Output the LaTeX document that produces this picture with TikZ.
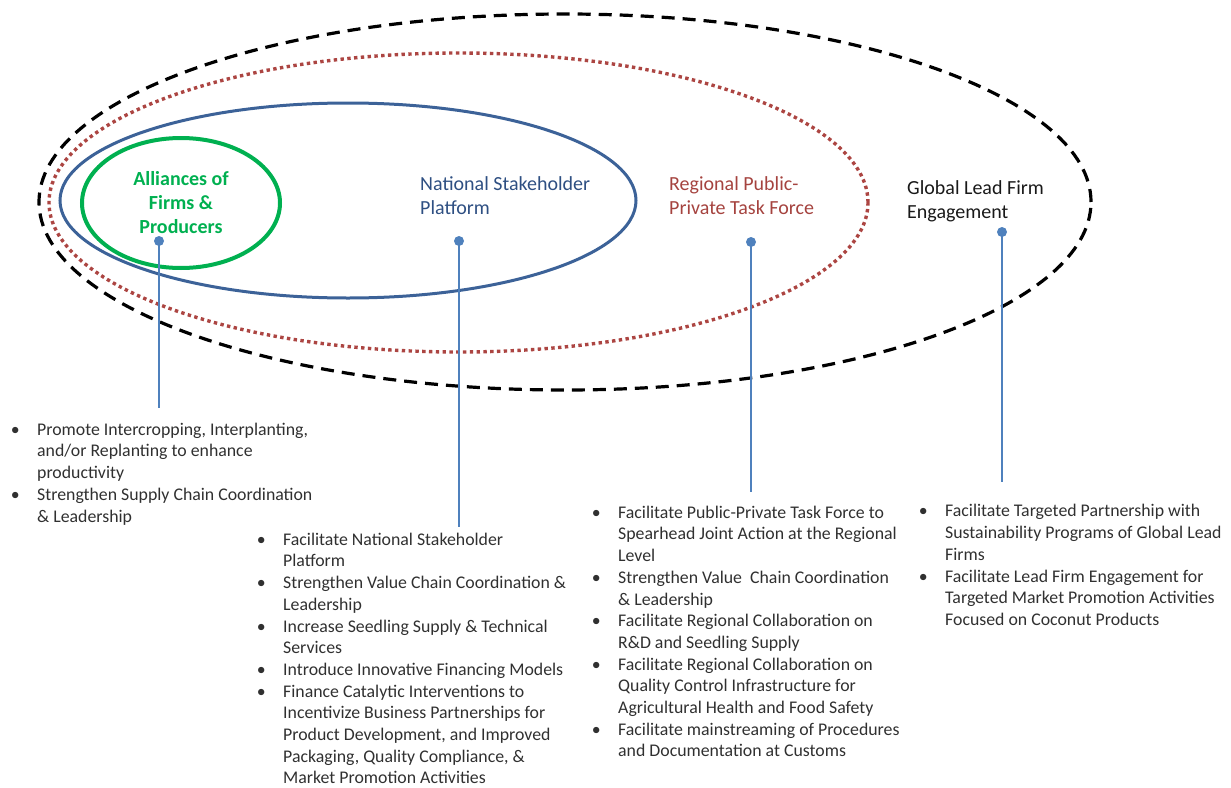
\documentclass[tikz,border=0pt]{standalone}
\usepackage{fontspec}
\setmainfont{Carlito}
\usepackage{array}
\definecolor{grn}{HTML}{00B050}
\definecolor{nblue}{HTML}{3C6298}
\definecolor{ntext}{HTML}{2E4F82}
\definecolor{rdot}{HTML}{AC4542}
\definecolor{rtext}{HTML}{A5433F}
\definecolor{dotblue}{HTML}{4F81BD}
\definecolor{bodytext}{HTML}{303030}
\newcommand{\bl}{\makebox[22pt][l]{\makebox[0pt]{•}}}
\newcommand{\nb}{\makebox[22pt][l]{}}
\begin{document}
\begin{tikzpicture}[x=1pt,y=-1pt,
  title/.style={inner sep=0pt, font=\fontsize{20}{24.4}\selectfont},
  blist/.style={inner sep=0pt, anchor=north west, text=bodytext, font=\fontsize{17.8}{21.7}\selectfont},
  pin/.style={circle, fill=dotblue, inner sep=0pt, minimum size=10pt},
  pinline/.style={draw=dotblue, line width=1.5pt}]
\useasboundingbox (0,0) rectangle (1231,787);
% ellipses
\draw[black, line width=3.2pt, dash pattern=on 13pt off 8pt] (565,202) ellipse [x radius=526pt, y radius=188pt];
\draw[rdot, line width=3.4pt, line cap=butt, dash pattern=on 3.4pt off 3.4pt] (458.5,202.5) ellipse [x radius=409.5pt, y radius=149.5pt];
\draw[nblue, line width=3pt] (348,200.5) ellipse [x radius=288pt, y radius=97.5pt];
\draw[grn, line width=4pt] (181,203) ellipse [x radius=99pt, y radius=65pt];
% titles
\node[title, anchor=base, text=grn, font=\fontsize{20}{24}\selectfont\bfseries] (t1) at (181,185)
  {\begin{tabular}[t]{@{}c@{}}Alliances of\\Firms \&\\Producers\end{tabular}};
\node[title, anchor=base west, text=ntext] (t2) at (420,190.5)
  {\begin{tabular}[t]{@{}l@{}}National Stakeholder\\Platform\end{tabular}};
\node[title, anchor=base west, text=rtext] (t3) at (669,190)
  {\begin{tabular}[t]{@{}l@{}}Regional Public-\\Private Task Force\end{tabular}};
\node[title, anchor=base west, text=black!90] (t4) at (907,194.5)
  {\begin{tabular}[t]{@{}l@{}}Global Lead Firm\\Engagement\end{tabular}};
% pins
\node[pin] (p1) at (159,241) {};
\node[pin] (p2) at (459,241) {};
\node[pin] (p3) at (751,242) {};
\node[pin] (p4) at (1002,232) {};
\coordinate (e1) at (159,408);
\coordinate (e2) at (459,527);
\coordinate (e3) at (751,492);
\coordinate (e4) at (1002,482);
\draw[pinline] (p1.center) -- (e1);
\draw[pinline] (p2.center) -- (e2);
\draw[pinline] (p3.center) -- (e3);
\draw[pinline] (p4.center) -- (e4);
% lists
\node[blist] (l1) at (15,435-15.19) {\begin{tabular}{@{}l@{}l@{}}
\bl & Promote Intercropping, Interplanting,\\
\nb & and/or Replanting to enhance\\
\nb & productivity\\
\bl & Strengthen Supply Chain Coordination\\
\nb & \& Leadership\\[-7pt]
\end{tabular}};
\node[blist] (l2) at (261,545-15.19) {\begin{tabular}{@{}l@{}l@{}}
\bl & Facilitate National Stakeholder\\
\nb & Platform\\
\bl & Strengthen Value Chain Coordination \&\\
\nb & Leadership\\
\bl & Increase Seedling Supply \& Technical\\
\nb & Services\\
\bl & Introduce Innovative Financing Models\\
\bl & Finance Catalytic Interventions to\\
\nb & Incentivize Business Partnerships for\\
\nb & Product Development, and Improved\\
\nb & Packaging, Quality Compliance, \&\\
\nb & Market Promotion Activities\\[-7pt]
\end{tabular}};
\node[blist] (l3) at (596,518-15.19) {\begin{tabular}{@{}l@{}l@{}}
\bl & Facilitate Public-Private Task Force to\\
\nb & Spearhead Joint Action at the Regional\\
\nb & Level\\
\bl & Strengthen Value \ Chain Coordination\\
\nb & \& Leadership\\
\bl & Facilitate Regional Collaboration on\\
\nb & R\&D and Seedling Supply\\
\bl & Facilitate Regional Collaboration on\\
\nb & Quality Control Infrastructure for\\
\nb & Agricultural Health and Food Safety\\
\bl & Facilitate mainstreaming of Procedures\\
\nb & and Documentation at Customs\\[-7pt]
\end{tabular}};
\node[blist] (l4) at (923,516.7-15.19) {\begin{tabular}{@{}l@{}l@{}}
\bl & Facilitate Targeted Partnership with\\
\nb & Sustainability Programs of Global Lead\\
\nb & Firms\\
\bl & Facilitate Lead Firm Engagement for\\
\nb & Targeted Market Promotion Activities\\
\nb & Focused on Coconut Products\\[-7pt]
\end{tabular}};
\end{tikzpicture}
\end{document}
